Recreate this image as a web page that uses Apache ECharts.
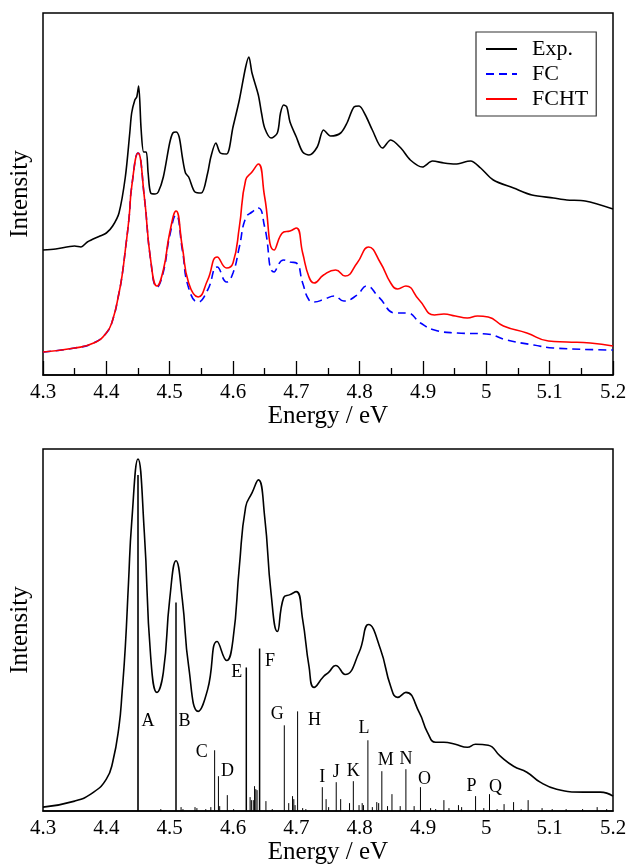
<!DOCTYPE html>
<html>
<head>
<meta charset="utf-8">
<script src="https://cdn.jsdelivr.net/npm/echarts@6/dist/echarts.min.js"></script>
<style>html,body{margin:0;padding:0;background:#fff}#c{width:630px;height:866px}</style>
</head>
<body>
<div id="c"></div>
<script>
// ---- data (energy in eV, intensity in arbitrary units) ----
const xTicks = [4.3, 4.4, 4.5, 4.6, 4.7, 4.8, 4.9, 5, 5.1, 5.2];

const expData = [
[4.30,125],[4.32,126],[4.35,129],[4.36,128],[4.37,133],[4.39,139],[4.40,142],[4.41,149],[4.42,162],
[4.43,198],[4.437,242],[4.44,262],[4.445,275],[4.448,278],[4.451,289],[4.455,245],[4.459,223],[4.463,223],
[4.466,202],[4.47,182],[4.477,181],[4.482,183],[4.49,198],[4.50,232],[4.505,242],[4.51,243],[4.515,238],
[4.52,218],[4.525,202],[4.53,198],[4.54,183],[4.55,182],[4.56,202],[4.565,218],[4.573,232],[4.58,222],
[4.59,221],[4.60,248],[4.61,275],[4.62,308],[4.625,318],[4.63,302],[4.64,280],[4.645,262],[4.65,247],
[4.66,237],[4.67,242],[4.675,262],[4.68,270],[4.685,268],[4.69,253],[4.70,238],[4.71,223],[4.72,220],
[4.733,228],[4.743,245],[4.754,239],[4.77,242],[4.78,252],[4.791,268],[4.799,269],[4.809,260],[4.82,245],
[4.836,227],[4.849,235],[4.865,227],[4.88,215],[4.899,208],[4.915,214],[4.933,212],[4.951,211],[4.975,214],
[4.991,207],[5.011,195],[5.043,187],[5.072,180],[5.106,177],[5.127,175],[5.156,174],[5.20,166]
];

const fcData = [
[4.30,23],[4.35,27],[4.38,32],[4.40,42],[4.41,55],[4.42,82],[4.425,100],[4.43,125],[4.436,158],[4.44,188],[4.45,222],[4.46,178],
[4.47,115],[4.48,88],[4.49,103],[4.50,139],[4.51,160],[4.52,125],[4.53,87],[4.545,73],[4.56,85],[4.575,108],
[4.59,93],[4.60,102],[4.61,128],[4.62,157],[4.63,163],[4.64,167],[4.65,148],[4.665,103],[4.68,115],[4.69,113],
[4.70,112],[4.71,92],[4.72,75],[4.728,73],[4.745,76],[4.76,79],[4.775,74],[4.796,80],[4.811,89],[4.83,78],
[4.857,62],[4.875,62],[4.896,52],[4.918,45],[4.954,42],[5.0,41],[5.032,35],[5.075,30],[5.106,27],[5.2,25]
];

const fchtData = [
[4.30,23],[4.35,27],[4.38,32],[4.40,42],[4.41,55],[4.42,82],[4.425,100],[4.43,125],[4.436,158],[4.44,188],[4.45,222],[4.46,178],
[4.47,115],[4.48,89],[4.49,105],[4.50,142],[4.51,164],[4.52,128],[4.53,92],[4.545,78],[4.56,95],[4.575,118],
[4.59,107],[4.60,112],[4.61,148],[4.62,195],[4.63,203],[4.64,211],[4.65,178],[4.665,125],[4.68,143],[4.69,144],
[4.70,147],[4.71,122],[4.72,98],[4.728,92],[4.743,100],[4.762,105],[4.777,99],[4.796,112],[4.814,128],[4.833,112],
[4.849,92],[4.86,86],[4.873,89],[4.894,75],[4.918,60],[4.933,61],[4.951,59],[4.97,57],[4.986,59],[5.003,58],
[5.027,49],[5.064,42],[5.098,34],[5.127,33],[5.164,32],[5.2,29]
];

const calcData = [
[4.30,4],[4.35,10],[4.38,19],[4.40,32],[4.41,49],[4.42,85],[4.425,120],[4.43,165],[4.435,229],[4.44,289],[4.45,353],[4.46,279],
[4.47,155],[4.48,119],[4.49,139],[4.50,212],[4.51,251],[4.52,212],[4.53,145],[4.545,100],[4.56,122],[4.575,170],
[4.59,151],[4.60,172],[4.61,245],[4.62,305],[4.63,319],[4.64,332],[4.65,295],[4.66,219],[4.67,180],[4.68,214],
[4.69,217],[4.70,220],[4.71,192],[4.72,145],[4.728,124],[4.743,135],[4.751,139],[4.762,146],[4.777,137],[4.799,159],
[4.814,187],[4.833,162],[4.849,125],[4.86,114],[4.873,119],[4.894,99],[4.907,79],[4.92,69],[4.933,69],[4.951,67],
[4.97,64],[4.983,67],[5.003,66],[5.022,55],[5.043,45],[5.064,39],[5.085,29],[5.111,22],[5.153,19],[5.18,19],[5.2,15]
];

// labelled vibronic transitions: [energy, intensity, label]
const sticksMain = [
[4.45,337,'A'],[4.51,209,'B'],[4.571,61,'C'],[4.577,35,'D'],[4.621,144,'E'],[4.642,163,'F'],
[4.681,86,'G'],[4.702,100,'H'],[4.741,24,'I'],[4.763,29,'J'],[4.79,30,'K'],[4.813,71,'L'],
[4.835,40,'M'],[4.873,42,'N'],[4.896,24,'O'],[4.983,15,'P'],[5.005,17,'Q']
];

// weaker transitions: [energy, intensity]
const sticksMinor = [
[4.486,2],[4.518,4],[4.521,2],[4.54,4],[4.543,3],[4.557,2],[4.565,4],[4.579,5],[4.591,16],[4.601,2],
[4.627,14],[4.629,11],[4.632,11],[4.634,25],[4.636,22],[4.638,21],[4.652,10],[4.662,2],[4.688,8],[4.694,15],
[4.696,12],[4.698,6],[4.71,3],[4.715,2],[4.747,12],[4.751,4],[4.77,12],[4.784,8],[4.799,6],[4.804,8],
[4.806,6],[4.82,4],[4.827,9],[4.83,8],[4.844,5],[4.851,17],[4.864,5],[4.886,5],[4.912,3],[4.92,2],
[4.933,11],[4.941,3],[4.956,6],[4.961,4],[4.996,3],[5.017,2],[5.028,7],[5.043,9],[5.055,2],[5.066,11],
[5.088,3],[5.104,2],[5.126,2],[5.152,2],[5.175,4],[5.19,2]
];

// ---- styling (not data) ----
const FONT = '"Liberation Serif", "DejaVu Serif", serif';
const thickLabels = {A:1.6, B:1.5, E:1.5, F:1.5};
const labelOffset = { // text centre relative to stick top, px
  A:[10,246], B:[8.5,119], C:[-13,2], D:[9,-5], E:[-9.5,5], F:[10.5,13], G:[-7,-11], H:[17,9],
  I:[0,-10], J:[0,-10], K:[0,-10], L:[-4,-12], M:[4,-11], N:[0,-10], O:[4,-8], P:[-4,-10], Q:[6,-7]
};

const chart = echarts.init(document.getElementById('c'), null, {renderer:'canvas'});

function xAxisCfg(idx, withTicks) {
  return {
    type:'value', gridIndex: idx, min: xTicks[0], max: xTicks[xTicks.length-1], interval: 0.1,
    name:'Energy / eV', nameLocation:'middle', nameGap: idx === 0 ? 28 : 26,
    nameTextStyle:{fontFamily:FONT, fontSize:25, color:'#000'},
    axisLine:{show:true, lineStyle:{color:'#000', width:1.5}},
    axisTick:{show:withTicks, inside:true, length:14, lineStyle:{color:'#000', width:1.3}},
    minorTick:{show:withTicks, splitNumber:2, length:7, lineStyle:{color:'#000', width:1.3}},
    axisLabel:{fontFamily:FONT, fontSize:21, color:'#000', margin:7,
      formatter: v => String(Math.round(v*10)/10)},
    splitLine:{show:false}, minorSplitLine:{show:false}
  };
}
function yAxisCfg(idx, max) {
  return {
    type:'value', gridIndex: idx, min:0, max:max,
    name:'Intensity', nameLocation:'middle', nameGap:10, nameRotate:90,
    nameTextStyle:{fontFamily:FONT, fontSize:25, color:'#000'},
    axisLine:{show:false}, axisTick:{show:false}, axisLabel:{show:false}, splitLine:{show:false}
  };
}

function renderStick(params, api) {
  const x = api.value(0), h = api.value(1);
  const p0 = api.coord([x, 0]), p1 = api.coord([x, h]);
  const isMain = params.seriesName === 'main';
  const lab = isMain ? sticksMain[params.dataIndex][2] : null;
  const lw = lab && thickLabels[lab] ? thickLabels[lab] : 1;
  const children = [{
    type:'line', shape:{x1:p0[0], y1:p0[1], x2:p1[0], y2:p1[1]},
    style:{stroke:'#000', lineWidth:lw}
  }];
  if (lab) {
    const off = labelOffset[lab];
    children.push({
      type:'text',
      style:{text:lab, x:p1[0]+off[0], y:p1[1]+off[1], align:'center', verticalAlign:'middle',
        textAlign:'center', textVerticalAlign:'middle', font:'18px ' + FONT, fill:'#000'}
    });
  }
  return {type:'group', children};
}

chart.setOption({
  animation:false,
  backgroundColor:'#fff',
  grid:[
    {left:42, top:13, width:571, height:362, show:true, borderColor:'#000', borderWidth:1.5, backgroundColor:'transparent'},
    {left:42, top:449, width:571, height:363, show:true, borderColor:'#000', borderWidth:1.5, backgroundColor:'transparent'}
  ],
  xAxis:[xAxisCfg(0, true), xAxisCfg(1, false)],
  yAxis:[yAxisCfg(0, 362), yAxisCfg(1, 363)],
  legend:{
    data:['Exp.','FC','FCHT'], orient:'vertical', left:476, top:32,
    borderColor:'#333', borderWidth:1.2, padding:[5,8,5,9],
    itemWidth:31, itemHeight:14, itemGap:1,
    itemStyle:{opacity:0},
    textStyle:{fontFamily:FONT, fontSize:22, lineHeight:24, color:'#000', padding:[0,0,0,10]}
  },
  series:[
    {name:'Exp.', type:'line', xAxisIndex:0, yAxisIndex:0, data:expData, showSymbol:false, symbol:'none',
      smooth:0.3, lineStyle:{color:'#000', width:1.6}, itemStyle:{color:'#000'}},
    {name:'FC', type:'line', xAxisIndex:0, yAxisIndex:0, data:fcData, showSymbol:false, symbol:'none',
      smooth:0.5, lineStyle:{color:'#0000ff', width:1.6, type:[8,5]}, itemStyle:{color:'#0000ff'}},
    {name:'FCHT', type:'line', xAxisIndex:0, yAxisIndex:0, data:fchtData, showSymbol:false, symbol:'none',
      smooth:0.5, lineStyle:{color:'#ff0000', width:1.6}, itemStyle:{color:'#ff0000'}},
    {name:'calc', type:'line', xAxisIndex:1, yAxisIndex:1, data:calcData, showSymbol:false, symbol:'none',
      smooth:0.5, lineStyle:{color:'#000', width:1.6}, z:3},
    {name:'minor', type:'custom', xAxisIndex:1, yAxisIndex:1, data:sticksMinor, renderItem:renderStick, z:2},
    {name:'main', type:'custom', xAxisIndex:1, yAxisIndex:1, data:sticksMain.map(d=>[d[0],d[1]]), renderItem:renderStick, z:2}
  ]
});
</script>
</body>
</html>
